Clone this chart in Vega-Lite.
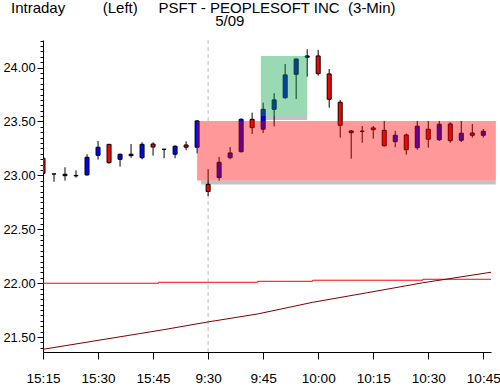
{
  "$schema": "https://vega.github.io/schema/vega-lite/v6.json",
  "width": 448,
  "height": 312,
  "autosize": {"type": "none"},
  "padding": {"left": 43, "top": 40, "right": 9, "bottom": 37},
  "background": "white",
  "config": {"view": {"stroke": null}},
  "title": {
    "text": "Intraday\u00a0\u00a0\u00a0\u00a0\u00a0\u00a0\u00a0\u00a0\u00a0(Left)\u00a0\u00a0\u00a0\u00a0\u00a0PSFT - PEOPLESOFT INC\u00a0\u00a0(3-Min)",
    "subtitle": "\u200b\u00a0\u00a0\u00a0\u00a0\u00a0\u00a0\u00a0\u00a0\u00a0\u00a0\u00a0\u00a0\u00a0\u00a0\u00a0\u00a0\u00a0\u00a0\u00a0\u00a0\u00a0\u00a0\u00a0\u00a0\u00a0\u00a0\u00a0\u00a0\u00a0\u00a0\u00a0\u00a0\u00a0\u00a0\u00a0\u00a0\u00a0\u00a0\u00a0\u00a0\u00a0\u00a0\u00a0\u00a0\u00a0\u00a0\u00a0\u00a0\u00a05/09",
    "anchor": "start",
    "frame": "group",
    "dx": -32,
    "offset": 6,
    "font": "Liberation Sans",
    "fontSize": 15,
    "fontWeight": "normal",
    "color": "black",
    "subtitleFont": "Liberation Sans",
    "subtitleFontSize": 15,
    "subtitleColor": "black",
    "subtitlePadding": -2
  },
  "datasets": {
    "candles": [
      {"i": 0, "t": "15:15", "o": 23.159, "h": 23.180, "l": 22.988, "c": 23.019},
      {"i": 1, "t": "15:18", "o": 23.013, "h": 23.013, "l": 22.941, "c": 23.013},
      {"i": 2, "t": "15:21", "o": 22.997, "h": 23.075, "l": 22.951, "c": 23.010},
      {"i": 3, "t": "15:24", "o": 23.000, "h": 23.047, "l": 22.979, "c": 22.995},
      {"i": 4, "t": "15:27", "o": 23.004, "h": 23.196, "l": 22.997, "c": 23.168},
      {"i": 5, "t": "15:30", "o": 23.186, "h": 23.319, "l": 23.146, "c": 23.261},
      {"i": 6, "t": "15:33", "o": 23.288, "h": 23.291, "l": 23.108, "c": 23.118},
      {"i": 7, "t": "15:36", "o": 23.149, "h": 23.201, "l": 23.081, "c": 23.196},
      {"i": 8, "t": "15:39", "o": 23.183, "h": 23.291, "l": 23.164, "c": 23.196},
      {"i": 9, "t": "15:42", "o": 23.164, "h": 23.307, "l": 23.149, "c": 23.288},
      {"i": 10, "t": "15:45", "o": 23.291, "h": 23.307, "l": 23.183, "c": 23.263},
      {"i": 11, "t": "15:48", "o": 23.242, "h": 23.242, "l": 23.159, "c": 23.242},
      {"i": 12, "t": "15:51", "o": 23.196, "h": 23.279, "l": 23.159, "c": 23.270},
      {"i": 13, "t": "15:54", "o": 23.282, "h": 23.316, "l": 23.233, "c": 23.261},
      {"i": 14, "t": "15:57", "o": 23.261, "h": 23.514, "l": 23.205, "c": 23.505},
      {"i": 15, "t": "9:30", "o": 22.917, "h": 23.057, "l": 22.809, "c": 22.850},
      {"i": 16, "t": "9:33", "o": 22.980, "h": 23.171, "l": 22.951, "c": 23.121},
      {"i": 17, "t": "9:36", "o": 23.164, "h": 23.263, "l": 23.149, "c": 23.208},
      {"i": 18, "t": "9:39", "o": 23.220, "h": 23.530, "l": 23.211, "c": 23.520},
      {"i": 19, "t": "9:42", "o": 23.520, "h": 23.582, "l": 23.384, "c": 23.443},
      {"i": 20, "t": "9:45", "o": 23.428, "h": 23.675, "l": 23.393, "c": 23.613},
      {"i": 21, "t": "9:48", "o": 23.613, "h": 23.762, "l": 23.454, "c": 23.700},
      {"i": 22, "t": "9:51", "o": 23.721, "h": 24.034, "l": 23.709, "c": 23.932},
      {"i": 23, "t": "9:54", "o": 23.938, "h": 24.080, "l": 23.709, "c": 24.080},
      {"i": 24, "t": "9:57", "o": 24.096, "h": 24.170, "l": 23.916, "c": 24.108},
      {"i": 25, "t": "10:00", "o": 24.108, "h": 24.164, "l": 23.925, "c": 23.944},
      {"i": 26, "t": "10:03", "o": 23.941, "h": 23.987, "l": 23.628, "c": 23.706},
      {"i": 27, "t": "10:06", "o": 23.678, "h": 23.700, "l": 23.350, "c": 23.465},
      {"i": 28, "t": "10:09", "o": 23.412, "h": 23.421, "l": 23.155, "c": 23.396},
      {"i": 29, "t": "10:12", "o": 23.409, "h": 23.458, "l": 23.303, "c": 23.409},
      {"i": 30, "t": "10:15", "o": 23.440, "h": 23.458, "l": 23.340, "c": 23.424},
      {"i": 31, "t": "10:18", "o": 23.418, "h": 23.505, "l": 23.266, "c": 23.275},
      {"i": 32, "t": "10:21", "o": 23.313, "h": 23.412, "l": 23.261, "c": 23.372},
      {"i": 33, "t": "10:24", "o": 23.375, "h": 23.387, "l": 23.192, "c": 23.238},
      {"i": 34, "t": "10:27", "o": 23.257, "h": 23.505, "l": 23.238, "c": 23.456},
      {"i": 35, "t": "10:30", "o": 23.428, "h": 23.505, "l": 23.257, "c": 23.335},
      {"i": 36, "t": "10:33", "o": 23.331, "h": 23.505, "l": 23.319, "c": 23.474},
      {"i": 37, "t": "10:36", "o": 23.477, "h": 23.493, "l": 23.303, "c": 23.322},
      {"i": 38, "t": "10:39", "o": 23.326, "h": 23.505, "l": 23.310, "c": 23.391},
      {"i": 39, "t": "10:42", "o": 23.393, "h": 23.477, "l": 23.350, "c": 23.372},
      {"i": 40, "t": "10:45", "o": 23.372, "h": 23.430, "l": 23.350, "c": 23.409}
    ],
    "zones": [
      {"zone": "green", "x1": 19.79, "x2": 24.0, "y1": 23.551, "y2": 24.108},
      {"zone": "red", "x1": 14.0, "x2": 41.13, "y1": 22.953, "y2": 23.505}
    ],
    "open": [{"x": 15}],
    "level": [
      {"x": 0, "v": 21.999},
      {"x": 10.5, "v": 22.008},
      {"x": 19.5, "v": 22.017},
      {"x": 24.5, "v": 22.027},
      {"x": 34.5, "v": 22.036},
      {"x": 40.7, "v": 22.036}
    ],
    "trend": [
      {"x": 0, "v": 21.386},
      {"x": 10.79, "v": 21.565},
      {"x": 15, "v": 21.640},
      {"x": 19.55, "v": 21.715},
      {"x": 24.49, "v": 21.822},
      {"x": 29.4, "v": 21.910},
      {"x": 34.49, "v": 22.003},
      {"x": 40.7, "v": 22.101}
    ]
  },
  "layer": [
    {
      "data": {"name": "open"},
      "mark": {"type": "rule", "color": "#BDBDBD", "strokeDash": [4, 3], "strokeWidth": 1},
      "encoding": {
        "x": {"field": "x", "type": "quantitative", "title": null, "scale": {"domain": [0, 40.7], "nice": false, "zero": false, "padding": 0}}
      }
    },
    {
      "data": {"name": "zones"},
      "mark": {"type": "rect", "fill": "#777777", "opacity": 0.45, "xOffset": 4, "yOffset": 4, "clip": false},
      "encoding": {
        "x": {"field": "x1", "type": "quantitative", "title": null, "scale": {"domain": [0, 40.7], "nice": false, "zero": false, "padding": 0}},
        "x2": {"field": "x2"},
        "y": {"field": "y1", "type": "quantitative", "title": null, "scale": {"domain": [21.361, 24.256], "nice": false, "zero": false, "padding": 0}},
        "y2": {"field": "y2"}
      }
    },
    {
      "data": {"name": "zones"},
      "mark": {"type": "rect", "fill": "white", "opacity": 1, "clip": false},
      "encoding": {
        "x": {"field": "x1", "type": "quantitative", "title": null, "scale": {"domain": [0, 40.7], "nice": false, "zero": false, "padding": 0}},
        "x2": {"field": "x2"},
        "y": {"field": "y1", "type": "quantitative", "title": null, "scale": {"domain": [21.361, 24.256], "nice": false, "zero": false, "padding": 0}},
        "y2": {"field": "y2"}
      }
    },
    {
      "data": {"name": "level"},
      "mark": {"type": "line", "color": "#FF0000", "strokeWidth": 1, "interpolate": "step-after"},
      "encoding": {
        "x": {"field": "x", "type": "quantitative", "title": null, "scale": {"domain": [0, 40.7], "nice": false, "zero": false, "padding": 0}},
        "y": {"field": "v", "type": "quantitative", "title": null, "scale": {"domain": [21.361, 24.256], "nice": false, "zero": false, "padding": 0}}
      }
    },
    {
      "data": {"name": "trend"},
      "mark": {"type": "line", "color": "#800000", "strokeWidth": 1},
      "encoding": {
        "x": {"field": "x", "type": "quantitative", "title": null, "scale": {"domain": [0, 40.7], "nice": false, "zero": false, "padding": 0}},
        "y": {"field": "v", "type": "quantitative", "title": null, "scale": {"domain": [21.361, 24.256], "nice": false, "zero": false, "padding": 0}}
      }
    },
    {
      "data": {"name": "candles"},
      "mark": {"type": "rule", "color": "black", "strokeWidth": 1, "clip": true},
      "encoding": {
        "x": {
          "field": "i", "type": "quantitative", "title": null,
          "scale": {"domain": [0, 40.7], "nice": false, "zero": false, "padding": 0},
          "axis": {
            "values": [0, 5, 10, 15, 20, 25, 30, 35, 40],
            "tickCount": 100,
            "labelExpr": "['15:15','15:30','15:45','9:30','9:45','10:00','10:15','10:30','10:45'][round(datum.value/5)]",
            "grid": false,
            "domainColor": "black", "tickColor": "black", "tickSize": 7,
            "labelFont": "Liberation Sans",
            "labelFontSize": 13.6, "labelColor": "black", "labelPadding": 12,
            "labelFlush": false, "labelOverlap": false, "labelBound": false
          }
        },
        "y": {
          "field": "l", "type": "quantitative", "title": null,
          "scale": {"domain": [21.361, 24.256], "nice": false, "zero": false, "padding": 0},
          "axis": {
            "values": [21.4,21.45,21.5,21.55,21.6,21.65,21.7,21.75,21.8,21.85,21.9,21.95,22,22.05,22.1,22.15,22.2,22.25,22.3,22.35,22.4,22.45,22.5,22.55,22.6,22.65,22.7,22.75,22.8,22.85,22.9,22.95,23,23.05,23.1,23.15,23.2,23.25,23.3,23.35,23.4,23.45,23.5,23.55,23.6,23.65,23.7,23.75,23.8,23.85,23.9,23.95,24,24.05,24.1,24.15,24.2,24.25],
            "tickCount": 200,
            "labelExpr": "abs(datum.value*2 - round(datum.value*2)) < 0.001 ? format(datum.value, '.2f') : ''",
            "grid": false,
            "domainColor": "black", "tickColor": "black",
            "tickSize": {"condition": {"test": "abs(datum.value*2 - round(datum.value*2)) < 0.001", "value": 6}, "value": 3},
            "labelFont": "Liberation Sans",
            "labelFontSize": 12.8, "labelColor": "black", "labelPadding": 2,
            "labelFlush": false, "labelOverlap": false, "labelBound": false
          }
        },
        "y2": {"field": "h"}
      }
    },
    {
      "data": {"name": "candles"},
      "mark": {"type": "bar", "width": 4, "stroke": "black", "strokeWidth": 1, "clip": true},
      "encoding": {
        "x": {"field": "i", "type": "quantitative", "title": null, "scale": {"domain": [0, 40.7], "nice": false, "zero": false, "padding": 0}},
        "y": {"field": "o", "type": "quantitative", "title": null, "scale": {"domain": [21.361, 24.256], "nice": false, "zero": false, "padding": 0}},
        "y2": {"field": "c"},
        "fill": {"condition": {"test": "datum.c >= datum.o", "value": "#0000FF"}, "value": "#FF0000"}
      }
    },
    {
      "data": {"name": "zones"},
      "mark": {"type": "rect", "opacity": 0.4, "clip": false},
      "encoding": {
        "x": {"field": "x1", "type": "quantitative", "title": null, "scale": {"domain": [0, 40.7], "nice": false, "zero": false, "padding": 0}},
        "x2": {"field": "x2"},
        "y": {"field": "y1", "type": "quantitative", "title": null, "scale": {"domain": [21.361, 24.256], "nice": false, "zero": false, "padding": 0}},
        "y2": {"field": "y2"},
        "fill": {"field": "zone", "type": "nominal", "scale": {"domain": ["green", "red"], "range": ["#00A040", "#FF0000"]}, "legend": null}
      }
    }
  ]
}
